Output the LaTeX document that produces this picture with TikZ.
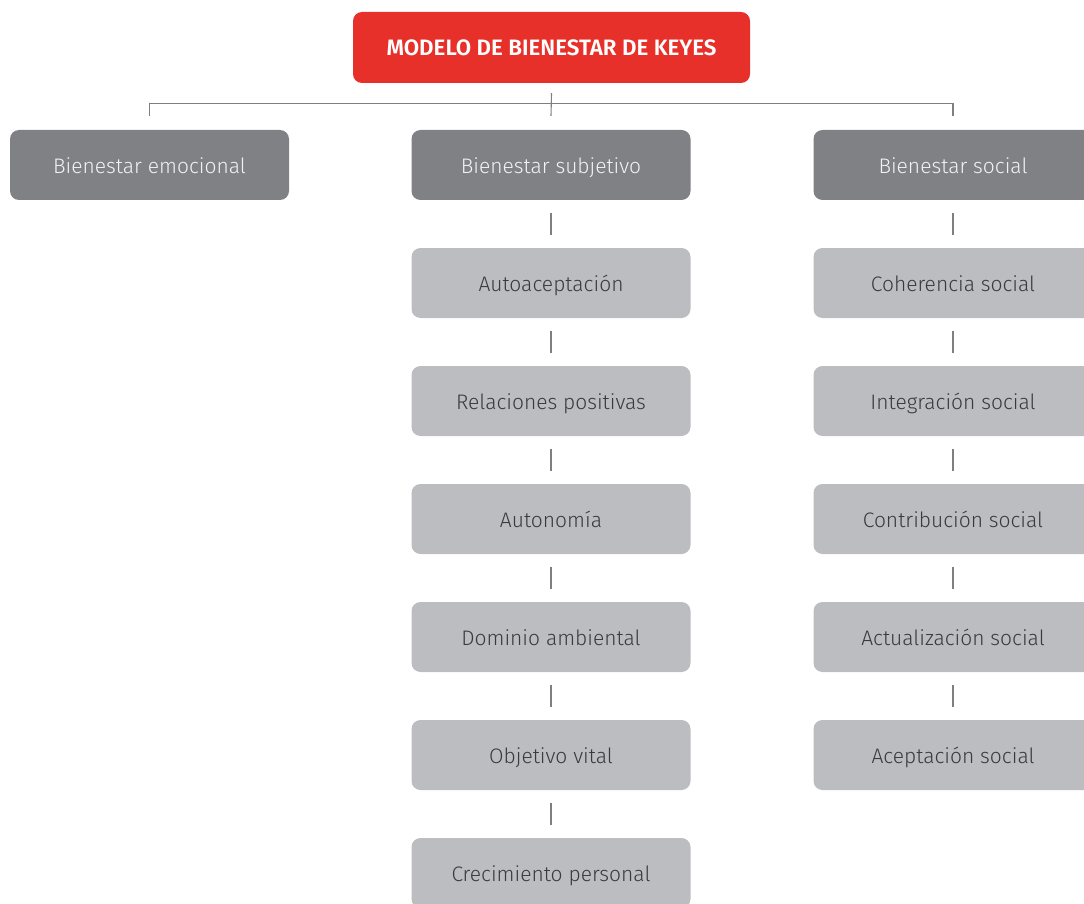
\documentclass[tikz,border=0pt]{standalone}
\usepackage{fontspec}
\setmainfont{Fira Sans Light}[BoldFont=Fira Sans SemiBold]
\begin{document}
\begin{tikzpicture}[x=1pt,y=-1pt,
  box/.style={rounded corners=9pt, minimum width=279pt, minimum height=70pt, inner sep=0pt, text height=17pt, text depth=0pt, font=\fontsize{21}{24}\selectfont},
  topbox/.style={box, fill=kred, minimum width=397pt, minimum height=71pt, text=white, text height=15.5pt, font=\bfseries\fontsize{22.3}{26}\selectfont},
  darkbox/.style={box, fill=kdark, text=ktextl},
  lightbox/.style={box, fill=klight, text=ktextd},
  link/.style={draw=kline, line width=1.1pt, shorten <=12.5pt, shorten >=12.5pt}
]
\definecolor{kred}{HTML}{E8302A}
\definecolor{kdark}{HTML}{808185}
\definecolor{klight}{HTML}{BCBDC0}
\definecolor{ktextl}{HTML}{F2F2F2}
\definecolor{ktextd}{HTML}{3A3A3C}
\definecolor{kline}{HTML}{7E7F82}
\useasboundingbox (0,0) rectangle (1084,904);
\clip (0,0) rectangle (1084,904);

\node[topbox] (t) at (551.5,47.5) {MODELO DE BIENESTAR DE KEYES};

\node[darkbox] (emo) at (149.5,165) {Bienestar emocional};
\node[darkbox] (subj) at (551,165) {Bienestar subjetivo};
\node[darkbox] (soc) at (953,165) {Bienestar social};

\node[lightbox] (s1) at (551,283) {Autoaceptación};
\node[lightbox] (s2) at (551,401) {Relaciones positivas};
\node[lightbox] (s3) at (551,519) {Autonomía};
\node[lightbox] (s4) at (551,637) {Dominio ambiental};
\node[lightbox] (s5) at (551,755) {Objetivo vital};
\node[lightbox] (s6) at (551,873) {Crecimiento personal};

\node[lightbox] (c1) at (953,283) {Coherencia social};
\node[lightbox] (c2) at (953,401) {Integración social};
\node[lightbox] (c3) at (953,519) {Contribución social};
\node[lightbox] (c4) at (953,637) {Actualización social};
\node[lightbox] (c5) at (953,755) {Aceptación social};

% top tree
\draw[draw=kline, line width=1.1pt] ([yshift=-10pt]t.south) -- ([yshift=14pt]subj.north);
\draw[draw=kline, line width=1.1pt] ([yshift=14pt]emo.north) -- ([yshift=26pt]emo.north) -| ([yshift=14pt]soc.north);

% chains
\foreach \a/\b in {subj/s1,s1/s2,s2/s3,s3/s4,s4/s5,s5/s6,soc/c1,c1/c2,c2/c3,c3/c4,c4/c5}
  \draw[link] (\a.south) -- (\b.north);
\end{tikzpicture}
\end{document}
